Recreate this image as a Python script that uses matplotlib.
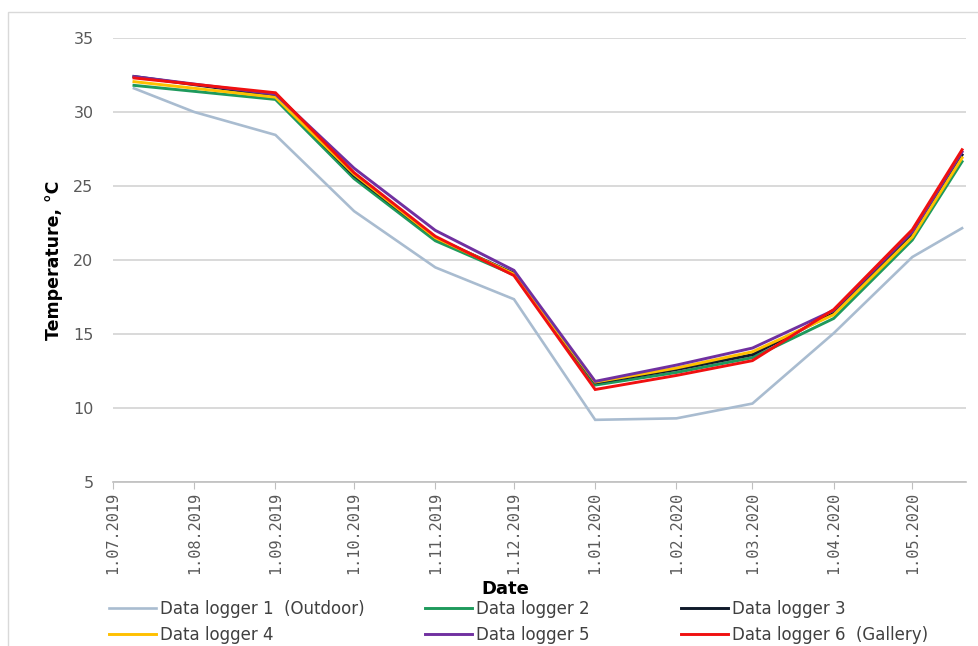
import matplotlib
matplotlib.use("Agg")
import matplotlib.pyplot as plt
from matplotlib.patches import Rectangle
import pandas as pd

# measurement dates
OUTDOOR_DATES = ["2019-07-09", "2019-08-01", "2019-09-01", "2019-10-01", "2019-11-01",
                 "2019-12-01", "2020-01-01", "2020-02-01", "2020-03-01", "2020-04-01",
                 "2020-05-01", "2020-05-20"]
LOGGER_DATES = ["2019-07-09", "2019-09-01", "2019-10-01", "2019-11-01", "2019-12-01",
                "2020-01-01", "2020-02-01", "2020-03-01", "2020-04-01", "2020-05-01",
                "2020-05-20"]

# temperatures, degC
logger1 = [31.6, 30.0, 28.45, 23.3, 19.5, 17.35, 9.2, 9.3, 10.3, 15.05, 20.2, 22.15]
logger2 = [31.8, 30.85, 25.5, 21.3, 19.0, 11.55, 12.4, 13.4, 16.05, 21.35, 26.65]
logger3 = [32.4, 31.1, 25.7, 21.5, 19.1, 11.7, 12.6, 13.6, 16.4, 21.7, 27.1]
logger4 = [32.05, 31.0, 25.8, 21.5, 19.05, 11.75, 12.7, 13.8, 16.3, 21.55, 26.9]
logger5 = [32.4, 31.2, 26.2, 22.0, 19.3, 11.8, 12.9, 14.05, 16.6, 21.9, 27.3]
logger6 = [32.3, 31.3, 25.9, 21.6, 18.95, 11.25, 12.2, 13.2, 16.65, 22.05, 27.45]

LABELS = ["Data logger 1  (Outdoor)", "Data logger 2", "Data logger 3",
          "Data logger 4", "Data logger 5", "Data logger 6  (Gallery)"]
COLORS = ["#A9BCD0", "#1E9A5C", "#0F1A2A", "#FFC000", "#7030A0", "#F01010"]

TICK_DATES = pd.date_range("2019-07-01", "2020-05-01", freq="MS")
TICK_LABELS = ["1.07.2019", "1.08.2019", "1.09.2019", "1.10.2019", "1.11.2019",
               "1.12.2019", "1.01.2020", "1.02.2020", "1.03.2020", "1.04.2020",
               "1.05.2020"]

fig = plt.figure(figsize=(9.79, 6.46), dpi=100)
fig.patches.append(Rectangle((8 / 979, -0.2), 1.2, 1.2 - 12 / 646, transform=fig.transFigure,
                             facecolor="none", edgecolor="#D9D9D9", lw=1.0))
ax = fig.add_axes([113 / 979, 1 - 482 / 646, (966 - 113) / 979, (482 - 38) / 646])

out_x = pd.to_datetime(OUTDOOR_DATES)
log_x = pd.to_datetime(LOGGER_DATES)
series = [logger1, logger2, logger3, logger4, logger5, logger6]
lines = []
for i, (vals, col) in enumerate(zip(series, COLORS)):
    xs = out_x if i == 0 else log_x
    ln, = ax.plot(xs, vals, color=col, lw=1.9 if i == 0 else 2.1,
                  solid_joinstyle="miter", zorder=3 + i)
    lines.append(ln)

ax.set_ylim(5, 35)
ax.set_yticks(range(5, 36, 5))
ax.set_xlim(pd.Timestamp("2019-07-01"), pd.Timestamp("2020-05-21 12:00"))
ax.set_xticks(TICK_DATES)
ax.set_xticklabels(TICK_LABELS, rotation=90, family="DejaVu Sans Mono",
                   fontsize=11, color="#595959")
ax.tick_params(axis="x", length=5, color="#BFBFBF", pad=2)
ax.tick_params(axis="y", length=0, labelsize=11.5, labelcolor="#595959", pad=14)

ax.grid(axis="y", color="#D9D9D9", lw=1.4)
ax.set_axisbelow(True)
for s in ["left", "right", "top"]:
    ax.spines[s].set_visible(False)
ax.spines["bottom"].set_color("#BFBFBF")
ax.spines["bottom"].set_linewidth(1.2)

ax.set_ylabel("Temperature, \u00b0C", fontsize=12.5, fontweight="bold", labelpad=7)
fig.text(505 / 979, 1 - 589 / 646, "Date", ha="center", va="center",
         fontsize=13, fontweight="bold")

# legend: three columns of two entries
col_x = [109 / 979, 425 / 979, 681 / 979]
for c in range(3):
    leg = fig.legend([lines[c], lines[c + 3]], [LABELS[c], LABELS[c + 3]],
                     loc="upper left", bbox_to_anchor=(col_x[c], 1 - 600 / 646),
                     frameon=False, fontsize=12, handlelength=2.8, handletextpad=0.25,
                     labelspacing=0.5, borderaxespad=0, borderpad=0)
    for t in leg.get_texts():
        t.set_color("#404040")

fig.savefig("out.png", dpi=100)
